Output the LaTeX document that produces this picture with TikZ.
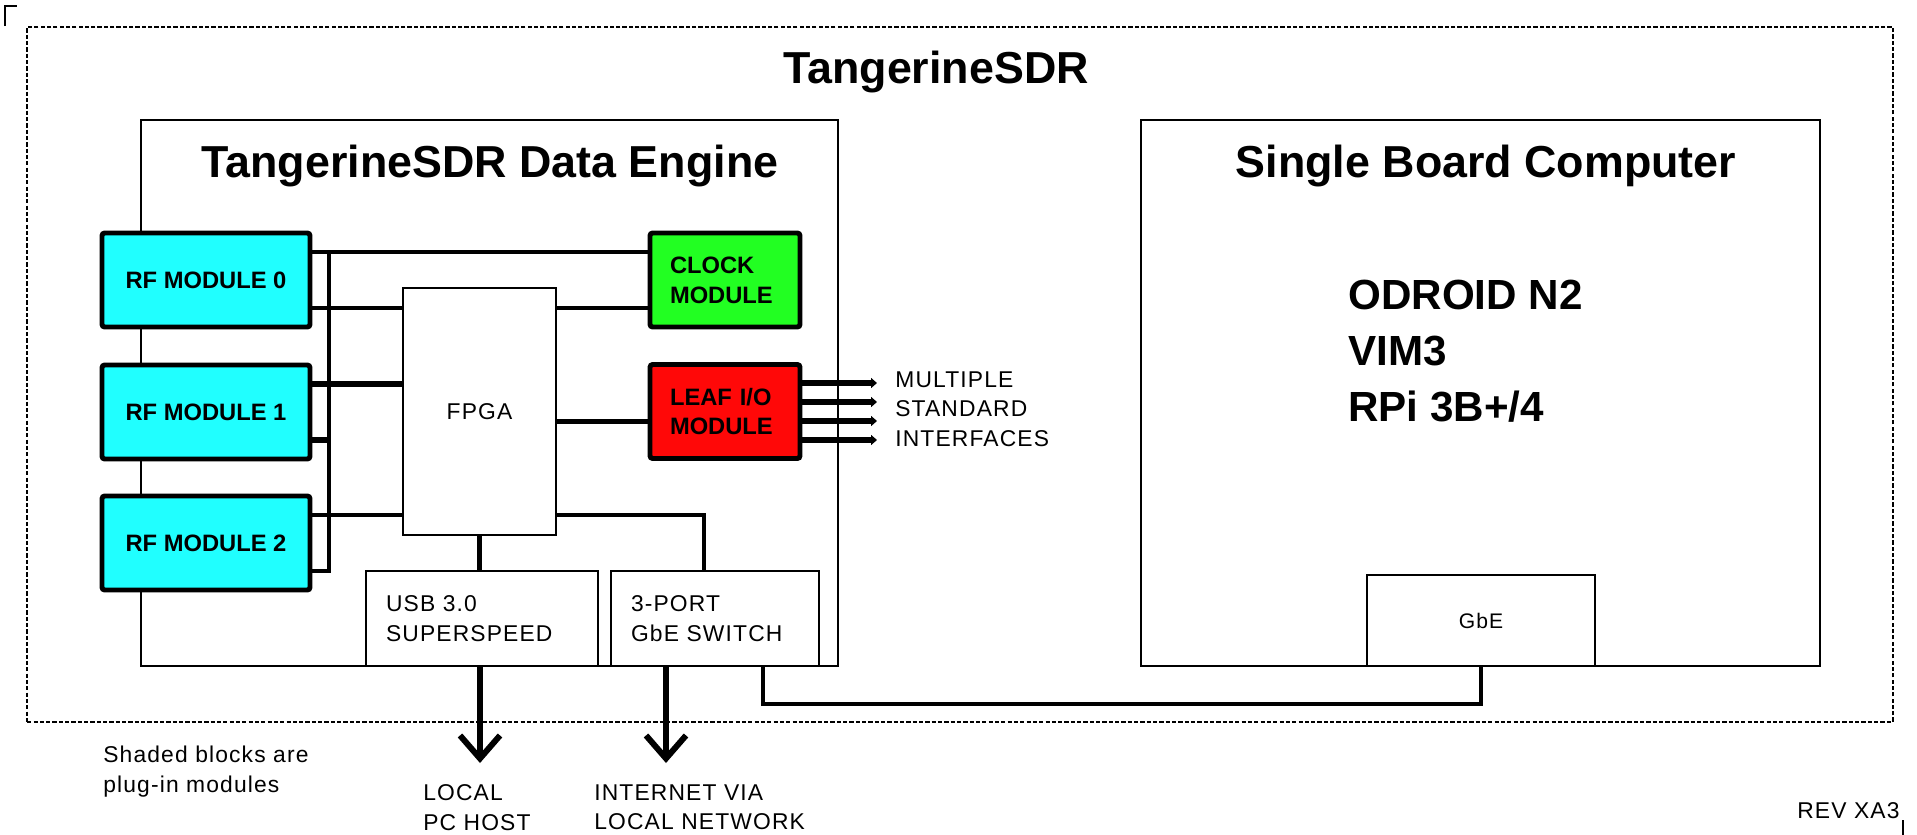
\documentclass[tikz,border=0pt]{standalone}
\usepackage{fontspec}
\setmainfont{Liberation Sans}
\newfontfamily\spaced[LetterSpace=5]{Liberation Sans}
\usetikzlibrary{arrows.meta}
\definecolor{rfcyan}{RGB}{32,255,255}
\definecolor{clkgreen}{RGB}{34,255,34}
\definecolor{leafred}{RGB}{255,8,8}

\begin{document}
\begin{tikzpicture}[x=0.02cm, y=-0.02cm, >={Straight Barb[length=0.46cm, width=0.8cm]},
  frame/.style={draw, line width=0.8pt, dash pattern=on 2.4pt off 1.2pt},
  box/.style={draw, line width=1.1pt, inner sep=0pt, font=\spaced\fontsize{13}{17}\selectfont},
  module/.style={draw, line width=2.8pt, rounded corners=1.5pt, minimum height=1.88cm, font=\bfseries\fontsize{13.5}{17}\selectfont},
  title/.style={anchor=base, font=\bfseries\fontsize{25.5}{30}\selectfont},
  note/.style={anchor=north west, inner sep=0pt, align=left, font=\spaced\fontsize{13}{17}\selectfont},
  wire/.style={line width=2pt},
  fat/.style={line width=3.4pt}]
  \useasboundingbox (0,0) rectangle (1917,835);

  % Nodes
  \node[frame, minimum width=37.32cm, minimum height=13.9cm] (sdr) at (960,374.5) {};
  \node[title] (sdrtitle) at (936,83) {TangerineSDR};
  \node[box, minimum width=13.94cm, minimum height=10.92cm] (eng) at (489.5,393) {};
  \node[title] (engtitle) at (490,177) {TangerineSDR Data Engine};
  \node[box, minimum width=13.58cm, minimum height=10.92cm] (sbc) at (1480.5,393) {};
  \node[title] (sbctitle) at (1486,177) {Single Board Computer};
  \node[anchor=north west, inner sep=0pt, align=left, font=\bfseries\fontsize{24}{31.7}\selectfont] (boards) at (1348,280) {ODROID N2\\VIM3\\RPi 3B+/4};
  \node[box, minimum width=4.56cm, minimum height=1.82cm, font=\spaced\fontsize{12}{15}\selectfont] (gbe) at (1481,620.5) {GbE};

  \node[module, fill=rfcyan, minimum width=4.16cm] (rf0) at (206,280) {RF MODULE 0};
  \node[module, fill=rfcyan, minimum width=4.16cm] (rf1) at (206,412) {RF MODULE 1};
  \node[module, fill=rfcyan, minimum width=4.16cm] (rf2) at (206,543) {RF MODULE 2};
  \node[module, fill=clkgreen, minimum width=3cm, text width=2.2cm, align=left] (clk) at (725,280) {CLOCK\\MODULE};
  \node[module, fill=leafred, minimum width=3cm, text width=2.2cm, align=left] (leaf) at (725,411.5) {LEAF I/O\\MODULE};
  \node[box, minimum width=3.06cm, minimum height=4.94cm] (fpga) at (479.5,411.5) {FPGA};
  \node[box, minimum width=4.64cm, minimum height=1.9cm, text width=3.84cm, align=left] (usb) at (482,618.5) {USB 3.0\\SUPERSPEED};
  \node[box, minimum width=4.16cm, minimum height=1.9cm, text width=3.36cm, align=left] (sw) at (715,618.5) {3-PORT\\GbE SWITCH};

  \node[note] (ifctext) at (895,371) {MULTIPLE\\STANDARD\\INTERFACES};
  \node[note] (shaded) at (103,746) {Shaded blocks are\\plug-in modules};
  \node[note] (pchost) at (423,784) {LOCAL\\PC HOST};
  \node[note] (inettext) at (594,784) {INTERNET VIA\\LOCAL NETWORK};
  \node[note, anchor=base west] (rev) at (1797,818) {REV XA3};

  \coordinate (bus) at (329,0);
  \coordinate (ifc) at (877,0);
  \coordinate (pc) at (480,763);
  \coordinate (inet) at (666,763);
  \coordinate (bend) at (763,704);

  % Arrows
  \draw[wire] ([yshift=0.56cm]rf0.east) -- ([yshift=0.56cm]rf0.east -| clk.west);
  \draw[wire] ([yshift=0.56cm]rf0.east -| bus) -- ([yshift=-0.56cm]rf2.east -| bus) -- ([yshift=-0.56cm]rf2.east);
  \draw[wire] ([yshift=-0.56cm]rf0.east) -- ([yshift=-0.56cm]rf0.east -| fpga.west);
  \draw[wire] ([yshift=-0.56cm]clk.west -| fpga.east) -- ([yshift=-0.56cm]clk.west);
  \draw[fat] ([yshift=0.56cm]rf1.east) -- ([yshift=0.56cm]rf1.east -| fpga.west);
  \draw[fat] ([yshift=-0.56cm]rf1.east) -- ([yshift=-0.56cm]rf1.east -| bus);
  \draw[wire] ([yshift=0.56cm]rf2.east) -- ([yshift=0.56cm]rf2.east -| fpga.west);
  \draw[wire] ([yshift=0.56cm]rf2.east -| fpga.east) -| ([xshift=-0.22cm]sw.north);
  \draw[fat] ([yshift=-0.2cm]leaf.west -| fpga.east) -- ([yshift=-0.2cm]leaf.west);
  \draw[fat] (fpga.south) -- (fpga.south |- usb.north);
  \foreach \s in {0.57,0.19,-0.19,-0.57}
    \draw[fat, -{Triangle[length=0.12cm, width=0.2cm]}] ([yshift=\s cm]leaf.east) -- ([yshift=\s cm]leaf.east -| ifc);
  \draw[fat, ->] (pc |- usb.south) -- (pc);
  \draw[fat, ->] (inet |- sw.south) -- (inet);
  \draw[wire] (bend |- sw.south) -- (bend) -| (gbe.south);

  % corner marks
  \draw[line width=0.9pt] (5,26) -- (5,6) -- (17,6);
  \draw[line width=0.9pt] (1903,820) -- (1903,835);
\end{tikzpicture}
\end{document}
